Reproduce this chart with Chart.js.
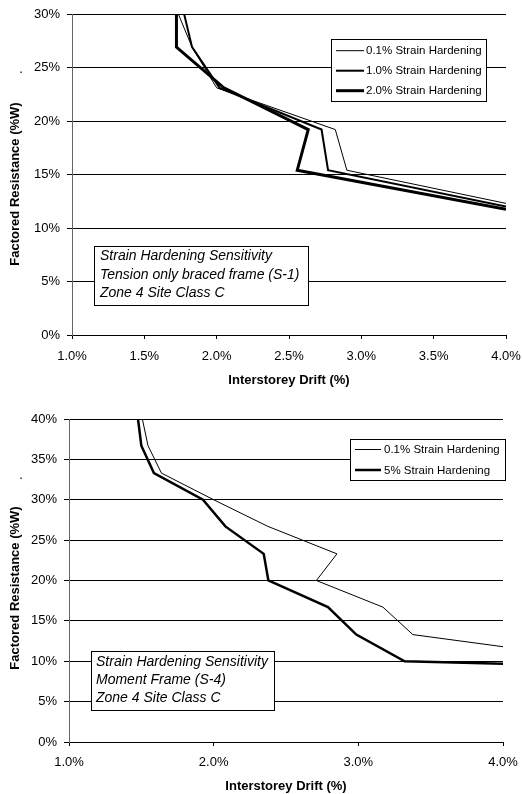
<!DOCTYPE html>
<html><head><meta charset="utf-8">
<script src="https://cdn.jsdelivr.net/npm/chart.js@4.4.1/dist/chart.umd.min.js"></script>
<style>
html,body{margin:0;padding:0;background:#fff;width:522px;height:794px;overflow:hidden}
canvas{position:absolute;left:0}
#c1{top:0}
#c2{top:397px}
</style></head><body>
<canvas id="c1" width="522" height="397"></canvas>
<canvas id="c2" width="522" height="397"></canvas>
<script>
const FONT = "'Liberation Sans', Arial, Helvetica, sans-serif";

// ---------- Chart 1 data ----------
const c1Labels = ['0.1% Strain Hardening', '1.0% Strain Hardening', '2.0% Strain Hardening'];
const c1Thin   = [[1.735,30],[1.83,26.9],[2.00,23.1],[2.82,19.2],[2.90,15.4],[4.0,12.3]];
const c1Medium = [[1.775,30],[1.83,26.9],[2.02,23.1],[2.725,19.2],[2.77,15.4],[4.0,12.0]];
const c1Thick  = [[1.722,30],[1.722,26.9],[2.05,23.1],[2.633,19.2],[2.557,15.4],[4.0,11.75]];
const c1XTicks = [1.0, 1.5, 2.0, 2.5, 3.0, 3.5, 4.0];
const c1YTicks = [0, 5, 10, 15, 20, 25, 30];
const c1Note = ['Strain Hardening Sensitivity', 'Tension only braced frame (S-1)', 'Zone 4 Site Class C'];

// ---------- Chart 2 data ----------
const c2Labels = ['0.1% Strain Hardening', '5% Strain Hardening'];
const c2Thin  = [[1.507,40],[1.546,36.7],[1.639,33.3],[2.00,30.0],[2.375,26.7],[2.852,23.3],[2.71,20.0],[3.17,16.7],[3.377,13.3],[4.0,11.8]];
const c2Thick = [[1.477,40],[1.50,36.7],[1.587,33.3],[1.926,30.0],[2.081,26.7],[2.346,23.3],[2.378,20.0],[2.79,16.7],[2.986,13.3],[3.32,10.0],[4.0,9.7]];
const c2XTicks = [1.0, 2.0, 3.0, 4.0];
const c2YTicks = [0, 5, 10, 15, 20, 25, 30, 35, 40];
const c2Note = ['Strain Hardening Sensitivity', 'Moment Frame (S-4)', 'Zone 4 Site Class C'];

const xTitle = 'Interstorey Drift (%)';
const yTitle = 'Factored Resistance (%W)';

const toXY = arr => arr.map(p => ({x: p[0], y: p[1]}));

const decorPlugin = {
  id: 'decor',
  afterDraw(chart, args, o) {
    const ctx = chart.ctx;
    ctx.save();
    // y title (rotated)
    ctx.fillStyle = '#000';
    ctx.font = 'bold 13px ' + FONT;
    ctx.textAlign = 'center';
    ctx.textBaseline = 'middle';
    ctx.save();
    ctx.translate(o.yTitle.x, o.yTitle.y);
    ctx.rotate(-Math.PI / 2);
    ctx.fillText(yTitle, 0, 0);
    ctx.restore();
    ctx.font = '13px ' + FONT;
    ctx.textBaseline = 'alphabetic';
    ctx.fillText('.', o.dot.x, o.dot.y);

    // legend box
    const L = o.legend;
    ctx.fillStyle = '#fff';
    ctx.fillRect(L.x, L.y, L.w, L.h);
    ctx.strokeStyle = '#000';
    ctx.lineWidth = 1;
    ctx.strokeRect(L.x + 0.5, L.y + 0.5, L.w, L.h);
    ctx.font = '11.5px ' + FONT;
    ctx.textAlign = 'left';
    ctx.textBaseline = 'middle';
    ctx.fillStyle = '#000';
    chart.data.datasets.forEach((ds, i) => {
      const y = L.rows[i];
      ctx.beginPath();
      ctx.lineWidth = ds.borderWidth;
      ctx.strokeStyle = '#000';
      ctx.moveTo(L.s0, y);
      ctx.lineTo(L.s1, y);
      ctx.stroke();
      ctx.fillText(ds.label, L.tx, y + 0.5);
    });

    // note box
    const N = o.note;
    ctx.fillStyle = '#fff';
    ctx.fillRect(N.x, N.y, N.w, N.h);
    ctx.strokeStyle = '#000';
    ctx.lineWidth = 1;
    ctx.strokeRect(N.x + 0.5, N.y + 0.5, N.w, N.h);
    ctx.font = 'italic 14px ' + FONT;
    ctx.fillStyle = '#000';
    ctx.textBaseline = 'middle';
    N.lines.forEach((t, i) => ctx.fillText(t, N.tx, N.rows[i]));
    ctx.restore();
  }
};

function makeChart(id, cfg) {
  return new Chart(document.getElementById(id), {
    type: 'line',
    data: {
      datasets: cfg.series.map((s, i) => ({
        label: cfg.labels[i],
        data: toXY(s),
        borderColor: '#000',
        borderWidth: cfg.widths[i],
        pointRadius: 0,
        tension: 0,
        fill: false
      }))
    },
    options: {
      responsive: false,
      animation: false,
      devicePixelRatio: 1,
      layout: {padding: cfg.padding},
      plugins: {
        legend: {display: false},
        tooltip: {enabled: false},
        decor: cfg.decor
      },
      scales: {
        x: {
          type: 'linear',
          min: cfg.xTicks[0], max: cfg.xTicks[cfg.xTicks.length - 1],
          afterBuildTicks: s => { s.ticks = cfg.xTicks.map(v => ({value: v})); },
          afterFit: s => { s.height = cfg.xH; },
          ticks: {
            callback: v => v.toFixed(1) + '%',
            font: {family: FONT, size: 13, lineHeight: cfg.xLH + 'px'},
            color: '#000',
            padding: 1,
            maxRotation: 0,
            autoSkip: false
          },
          grid: {drawOnChartArea: false, drawTicks: true, tickLength: 4, color: '#000'},
          border: {color: '#000', width: 1},
          title: {
            display: true, text: xTitle, color: '#000',
            font: {family: FONT, size: 13, weight: 'bold'},
            padding: {top: 0, bottom: cfg.xTitlePad}
          }
        },
        y: {
          type: 'linear',
          min: cfg.yTicks[0], max: cfg.yTicks[cfg.yTicks.length - 1],
          afterBuildTicks: s => { s.ticks = cfg.yTicks.map(v => ({value: v})); },
          afterFit: s => { s.width = cfg.yW; },
          ticks: {
            callback: v => v + '%',
            font: {family: FONT, size: 13, lineHeight: 1},
            color: '#000',
            padding: 7,
            autoSkip: false
          },
          grid: {color: '#000', lineWidth: 1, drawTicks: true, tickLength: 5},
          border: {color: '#666', width: 1}
        }
      }
    },
    plugins: [decorPlugin]
  });
}

makeChart('c1', {
  series: [c1Thin, c1Medium, c1Thick],
  labels: c1Labels,
  widths: [1, 2, 3],
  xTicks: c1XTicks, yTicks: c1YTicks,
  padding: {left: 0, top: 14, right: 16, bottom: 0},
  yW: 72, xH: 62, xLH: 33.4, xTitlePad: 9,
  decor: {
    yTitle: {x: 15.5, y: 184},
    dot: {x: 21, y: 73},
    legend: {x: 331, y: 39, w: 155, h: 62, rows: [50.7, 70.7, 90.7], s0: 336, s1: 364, tx: 366},
    note: {x: 94, y: 246, w: 214, h: 59, tx: 100, rows: [256.5, 275, 293.5], lines: c1Note}
  }
});

makeChart('c2', {
  series: [c2Thin, c2Thick],
  labels: c2Labels,
  widths: [1, 2.5],
  xTicks: c2XTicks, yTicks: c2YTicks,
  padding: {left: 0, top: 22, right: 19, bottom: 0},
  yW: 69, xH: 52, xLH: 30.6, xTitlePad: 0,
  decor: {
    yTitle: {x: 15.5, y: 191},
    dot: {x: 21, y: 82},
    legend: {x: 350, y: 42, w: 155, h: 41, rows: [52.5, 73], s0: 355, s1: 381, tx: 384},
    note: {x: 91, y: 254, w: 183, h: 59, tx: 96, rows: [265, 283, 301], lines: c2Note}
  }
});
</script>
</body></html>
